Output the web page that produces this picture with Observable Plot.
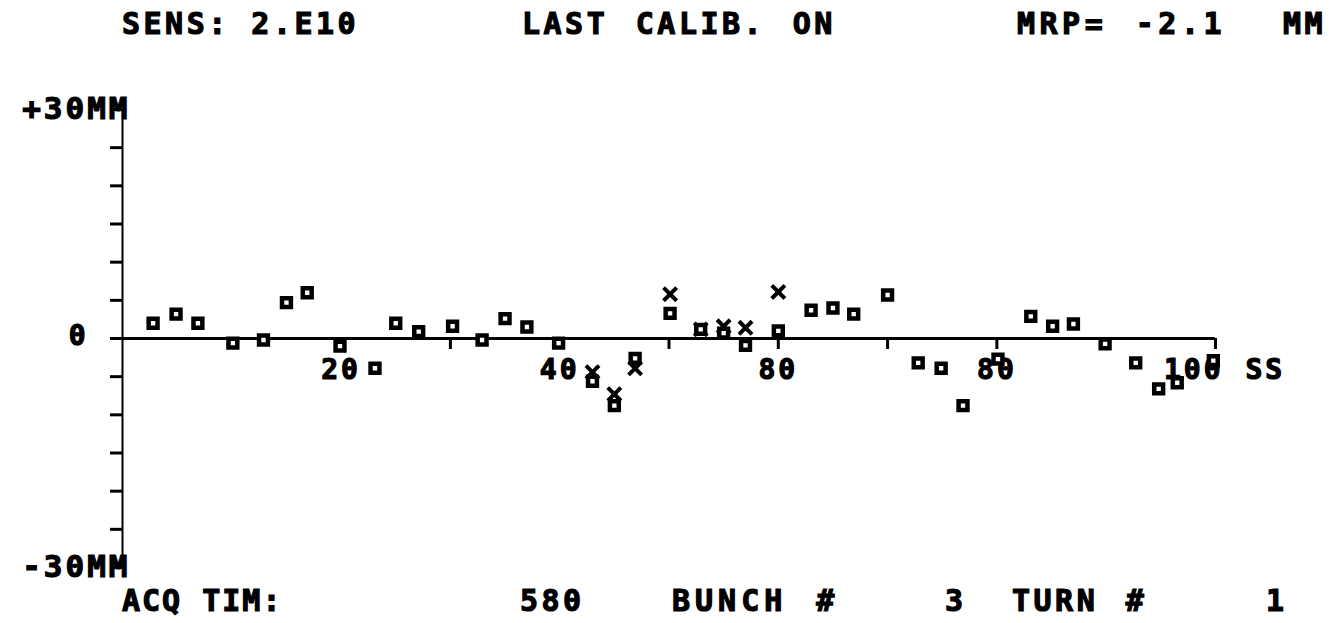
<!DOCTYPE html>
<html><head><meta charset="utf-8">
<script src="https://cdn.jsdelivr.net/npm/d3@7"></script>
<script src="https://cdn.jsdelivr.net/npm/@observablehq/plot@0.6"></script>
<style>
html,body{margin:0;padding:0;background:#fff;}
#page{position:relative;width:1339px;height:623px;overflow:hidden;background:#fff;font-family:"DejaVu Sans Mono",monospace;font-weight:bold;color:#000;}
.lbl{position:absolute;font-size:30px;line-height:30px;letter-spacing:3.5px;word-spacing:6px;white-space:pre;-webkit-text-stroke:1.2px #000;}
#header .lbl{top:9px;}
#footer .lbl{top:586px;}
#header .lbl:nth-child(1){left:122px;word-spacing:0;}
#header .lbl:nth-child(2){left:522px;}
#header .lbl:nth-child(3){left:1017px;letter-spacing:4.5px;}
#header .lbl:nth-child(4){left:1283px;}
#footer .lbl:nth-child(1){left:122px;word-spacing:0;letter-spacing:2px;}
#footer .lbl:nth-child(2){left:520px;}
#footer .lbl:nth-child(3){left:672px;letter-spacing:5px;}
#footer .lbl:nth-child(4){left:945px;}
#footer .lbl:nth-child(5){left:1012px;}
#footer .lbl:nth-child(6){left:1266px;}
#chart{position:absolute;left:0;top:40px;}
#chart svg text{letter-spacing:3px;stroke:#000;stroke-width:1.2px;}
</style></head>
<body><div id="page"><div id="header"></div><div id="chart"></div><div id="footer"></div></div>
<script>
// Header / footer texts
const headerTexts = ["SENS: 2.E10", "LAST CALIB. ON", "MRP= -2.1", "MM"];
const footerTexts = ["ACQ TIM:", "580", "BUNCH #", "3", "TURN #", "1"];

// Axis ticks and labels
const xTickVals = [10, 20, 30, 40, 50, 60, 70, 80, 90, 100];
const xLabelVals = [20, 40, 60, 80, 100];
const xLabelTexts = ["20", "40", "80", "80", "100"];
const xUnit = ["SS"];
const yTickVals = [-30, -25, -20, -15, -10, -5, 0, 5, 10, 15, 20, 25, 30];
const yEndVals = [30, -30];
const yEndTexts = ["+30MM", "-30MM"];
const yZeroVals = [0];
const yZeroTexts = ["0"];

// Square markers (position SS, value MM)
const squarePos = [2.8, 4.9, 6.9, 10.1, 12.9, 15, 16.9, 19.9, 23.1, 25, 27.1, 30.2, 32.9, 35, 37, 39.9, 43, 45, 46.9, 50.1, 52.9, 55, 57, 60, 63, 65, 66.9, 70, 72.8, 74.9, 76.9, 80.1, 83.1, 85.1, 87, 89.9, 92.7, 94.8, 96.5, 99.8];
const squareVals = [2.0, 3.2, 2.0, -0.6, -0.2, 4.7, 6.0, -1.0, -3.9, 2.0, 0.9, 1.6, -0.2, 2.6, 1.5, -0.6, -5.6, -8.8, -2.6, 3.3, 1.2, 0.7, -0.9, 1.0, 3.7, 4.0, 3.2, 5.7, -3.2, -3.9, -8.8, -2.7, 2.9, 1.6, 1.9, -0.7, -3.2, -6.6, -5.8, -2.9];
// Cross markers
const crossPos = [43, 45, 46.9, 50.1, 52.9, 55, 57, 60];
const crossVals = [-4.4, -7.3, -3.9, 5.8, 1.2, 1.6, 1.4, 6.1];

const squares = squarePos.map((x, i) => ({x, y: squareVals[i]}));
const crosses = crossPos.map((x, i) => ({x, y: crossVals[i]}));
const xLabels = xLabelVals.map((x, i) => ({x, t: xLabelTexts[i]}));
const yEnds = yEndVals.map((y, i) => ({y, t: yEndTexts[i]}));
const yZero = yZeroVals.map((y, i) => ({y, t: yZeroTexts[i]}));
const lastX = d3.max(xLabelVals);

const header = document.getElementById("header");
headerTexts.forEach(t => { const s = document.createElement("div"); s.className = "lbl"; s.textContent = t; header.appendChild(s); });
const footer = document.getElementById("footer");
footerTexts.forEach(t => { const s = document.createElement("div"); s.className = "lbl"; s.textContent = t; footer.appendChild(s); });

const plot = Plot.plot({
  width: 1339,
  height: 550,
  marginTop: 69,
  marginBottom: 23,
  marginLeft: 122,
  marginRight: 124,
  x: {domain: [0, 100], axis: null},
  y: {domain: [-30, 30], axis: null},
  style: {fontFamily: "DejaVu Sans Mono", fontSize: "28px", fontWeight: "bold", color: "black", background: "white"},
  marks: [
    Plot.axisY({ticks: yTickVals, tickSize: 12, tickFormat: () => "", label: null, strokeWidth: 3}),
    Plot.ruleX([0], {x: d => d, strokeWidth: 2}),
    Plot.ruleY([0], {y: d => d, strokeWidth: 3}),
    Plot.ruleX(xTickVals, {x: d => d, y1: () => 0, y2: () => 0, insetBottom: -11, strokeWidth: 3}),
    Plot.text(xLabels, {filter: d => d.x < lastX, x: "x", y: () => 0, text: "t", dy: 32, textAnchor: "middle"}),
    Plot.text(xLabels, {filter: d => d.x === lastX, x: "x", y: () => 0, text: "t", dy: 32, dx: 8, textAnchor: "end"}),
    Plot.text(xUnit, {x: () => 100, y: () => 0, text: d => d, dx: 30, dy: 32, textAnchor: "start"}),
    Plot.text(yEnds, {x: () => 0, y: "y", text: "t", dx: 8, fontSize: 31, textAnchor: "end"}),
    Plot.text(yZero, {x: () => 0, y: "y", text: "t", dx: -34, dy: -2, textAnchor: "end"}),
    Plot.dot(crosses, {x: "x", y: "y", symbol: "times", r: 6, stroke: "black", strokeWidth: 4}),
    Plot.dot(squares, {x: "x", y: "y", symbol: "square", r: 5, stroke: "black", strokeWidth: 4.5, fill: "white"})
  ]
});
document.getElementById("chart").appendChild(plot);
</script>
</body></html>
